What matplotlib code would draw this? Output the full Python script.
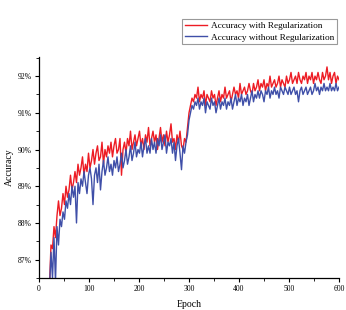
import matplotlib.pyplot as plt
from matplotlib.ticker import MultipleLocator, FuncFormatter
import numpy as np

plt.rcParams['font.family'] = ['Liberation Serif', 'DejaVu Serif']

epochs = np.arange(21, 601, 3)

acc_reg = [
    86.3, 87.4, 87.3, 87.9, 87.6, 88.2, 88.6, 88.2, 88.4, 88.8,
    88.5, 89.0, 88.7, 88.9, 89.3, 88.9, 89.1, 89.4, 89.1, 89.6,
    89.3, 89.5, 89.8, 89.3, 89.6, 89.4, 89.9, 89.5, 89.7, 90.0,
    89.6, 89.9, 90.1, 89.7, 89.8, 90.2, 89.6, 90.0, 89.8, 90.1,
    89.9, 90.2, 89.8, 90.1, 90.3, 89.9, 90.0, 90.3, 89.3, 90.0,
    90.2, 89.9, 90.3, 90.1, 90.5, 90.0, 90.2, 90.4, 90.1, 90.3,
    90.5, 90.1, 90.3, 90.0, 90.4, 90.2, 90.6, 90.1, 90.3, 90.5,
    90.2, 90.4, 90.0, 90.3, 90.6, 90.2, 90.4, 90.1, 90.5, 90.2,
    90.4, 90.7, 90.2, 90.3, 90.0, 90.4, 90.2, 90.5, 90.1, 90.0,
    90.3, 90.2, 90.6, 91.0, 91.2, 91.4, 91.3, 91.5, 91.4, 91.7,
    91.3, 91.5, 91.4, 91.6, 91.2, 91.5, 91.4, 91.3, 91.6, 91.4,
    91.5, 91.2, 91.4, 91.6, 91.3, 91.5, 91.4, 91.7, 91.4, 91.5,
    91.6, 91.3, 91.5, 91.7, 91.5, 91.6, 91.4, 91.8, 91.5, 91.6,
    91.7, 91.5, 91.6, 91.8, 91.6, 91.5, 91.8, 91.6, 91.7, 91.9,
    91.6, 91.8, 91.7, 91.9, 91.6, 91.8, 91.7, 92.0, 91.7, 91.8,
    91.9, 91.7, 91.8, 92.0, 91.7, 91.9, 91.8, 91.7, 92.0, 91.8,
    91.9, 92.1, 91.8, 91.9, 92.0, 91.8, 92.1, 91.9, 91.8, 92.0,
    91.9, 92.1, 91.8, 92.0, 91.9, 92.1, 91.8, 92.0, 91.9, 92.1,
    91.9, 91.8, 92.1, 91.9, 92.0, 92.25, 91.9, 92.1, 91.8, 92.0,
    92.1, 91.8, 92.0, 91.9,
]

acc_noreg = [
    86.2, 87.2, 86.5, 87.6, 86.4, 87.9, 87.4, 88.1, 87.9, 88.3,
    88.1, 88.6, 88.4, 88.8, 88.5, 89.0, 88.7, 89.0, 88.0, 89.1,
    88.8, 89.2, 89.0, 89.4, 89.1, 88.8, 89.3, 89.5, 89.2, 88.5,
    89.3, 89.5, 89.1, 89.6, 88.9, 89.4, 89.7, 89.3, 89.5, 89.8,
    89.4, 89.6, 89.3, 89.7, 89.5, 89.8, 89.4, 89.6, 89.9, 89.5,
    89.7, 90.0, 89.6, 89.8, 90.1, 89.7, 89.9, 90.2, 89.8, 90.0,
    89.9, 90.2, 89.8, 90.1, 90.3, 89.9, 90.1, 89.9, 90.3, 90.0,
    90.2, 89.9, 90.3, 90.1, 90.4, 90.0, 90.2, 90.4, 89.9, 90.2,
    90.1, 90.3, 89.9, 90.2, 89.7, 90.1, 90.3, 89.9, 89.45, 90.1,
    89.9, 90.2, 90.4, 90.8, 91.0, 91.2, 91.1, 91.3, 91.2, 91.4,
    91.1, 91.3, 91.2, 91.4, 91.0, 91.3, 91.2, 91.1, 91.4, 91.2,
    91.3, 91.0, 91.2, 91.4, 91.1, 91.3, 91.2, 91.4, 91.1, 91.3,
    91.2, 91.4, 91.1, 91.3, 91.5, 91.2, 91.4, 91.3, 91.5, 91.2,
    91.4, 91.3, 91.5, 91.2, 91.4, 91.6, 91.3, 91.5, 91.4, 91.6,
    91.4, 91.6, 91.5, 91.3, 91.6, 91.5, 91.7, 91.4, 91.6, 91.5,
    91.7, 91.5, 91.6, 91.4, 91.7, 91.6, 91.5, 91.7, 91.6, 91.5,
    91.7, 91.5, 91.6, 91.7, 91.5, 91.6, 91.3, 91.6, 91.7, 91.5,
    91.6, 91.7, 91.5, 91.6, 91.7, 91.5, 91.6, 91.8, 91.6, 91.7,
    91.5, 91.7, 91.6, 91.8, 91.6, 91.7, 91.6, 91.8, 91.6, 91.7,
    91.6, 91.8, 91.6, 91.7,
]

fig = plt.figure(figsize=(3.46, 3.10), dpi=100)
ax = fig.add_axes([0.1127, 0.1032, 0.8671, 0.7129])

ax.plot(epochs, acc_reg, color='#ED1C24', lw=1.0, label='Accuracy with Regularization')
ax.plot(epochs, acc_noreg, color='#3F4FA8', lw=1.0, label='Accuracy without Regularization')

ax.set_xlim(0, 600)
ax.set_ylim(86.5, 92.52)
ax.xaxis.set_major_locator(MultipleLocator(100))
ax.xaxis.set_minor_locator(MultipleLocator(50))
ax.yaxis.set_major_locator(MultipleLocator(1))
ax.yaxis.set_minor_locator(MultipleLocator(0.5))
ax.yaxis.set_major_formatter(FuncFormatter(lambda v, p: f'{v:.0f}%'))

for s in ['top', 'right']:
    ax.spines[s].set_visible(False)
for s in ['left', 'bottom']:
    ax.spines[s].set_linewidth(0.9)
ax.tick_params(which='major', direction='out', length=3, width=0.8, labelsize=5.5, pad=2)
ax.tick_params(which='minor', direction='out', length=2, width=0.6)

ax.set_xlabel('Epoch', fontsize=7, labelpad=5)
ax.set_ylabel('Accuracy', fontsize=7, labelpad=3)

leg = ax.legend(loc='upper right', bbox_to_anchor=(0.974, 0.939),
                bbox_transform=fig.transFigure, borderaxespad=0,
                fontsize=6.7, fancybox=False, framealpha=1, edgecolor='#999999',
                handlelength=2.4, labelspacing=0.3, borderpad=0.3, handletextpad=0.4)
leg.get_frame().set_linewidth(0.8)

fig.savefig('out.png', dpi=100)
